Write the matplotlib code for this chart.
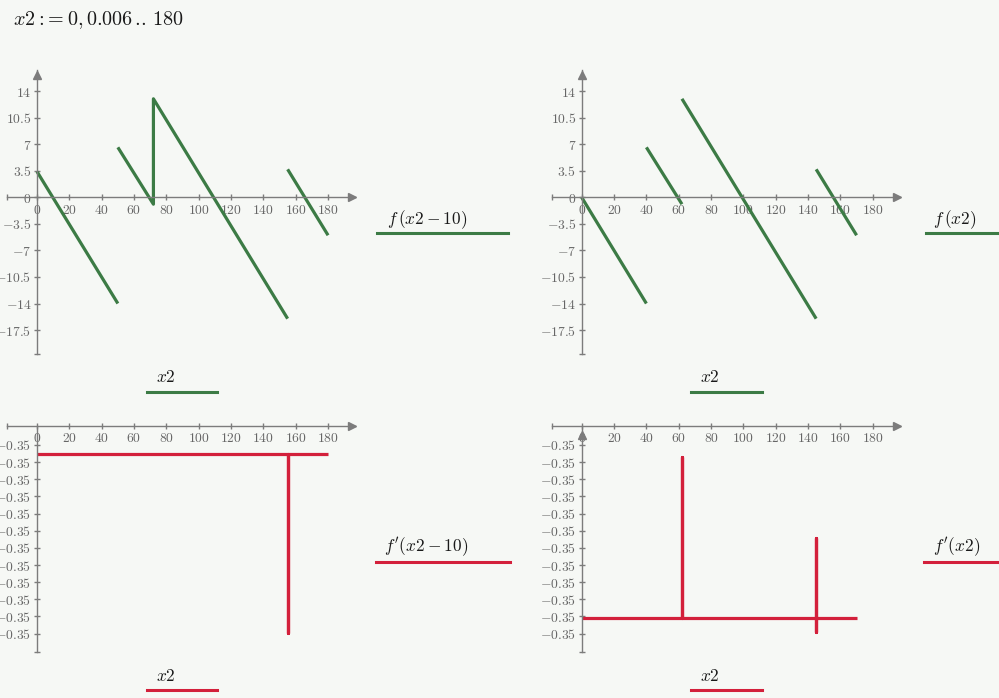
import numpy as np
import matplotlib
matplotlib.use("Agg")
import matplotlib.pyplot as plt
from matplotlib.lines import Line2D

plt.rcParams["mathtext.fontset"] = "cm"

W, H = 999, 698
BG = "#f6f8f5"
AXIS = "#7c7c7c"
TICKTXT = "#666666"
GREEN = "#3c7b45"
RED = "#d3203b"

# f(x2 - 10), top left (NaN breaks the trace)
fs_x = [0, 50, np.nan, 50, 72, 72, 155, np.nan, 155, 180]
fs_y = [3.4, -14.0, np.nan, 6.6, -0.9, 13.0, -16.0, np.nan, 3.7, -5.0]

# f(x2), top right
f_x = [0, 40, np.nan, 40, 62, np.nan, 62, 145, np.nan, 145, 170]
f_y = [0.0, -14.0, np.nan, 6.6, -0.9, np.nan, 13.0, -16.0, np.nan, 3.7, -5.0]

# f'(...) is -0.35 everywhere, spikes are tiny deviations (in units of 1e-9)
dfs_x = [0, 155, 155, 155, 180]
dfs_u = [0.0, 0.0, -10.4, 0.0, 0.0]
df_x = [0, 62, 62, 62, 145, 145, 145, 145, 170]
df_u = [0.0, 0.0, 9.42, 0.0, 0.0, 4.69, -0.79, 0.0, 0.0]

x_ticks = [0, 20, 40, 60, 80, 100, 120, 140, 160, 180]
f_ticks = [14, 10.5, 7, 3.5, 0, -3.5, -7, -10.5, -14, -17.5]
dfs_ticks_u = [0.54 - i for i in range(12)]
df_ticks_u = [10.1 - i for i in range(12)]

DF_LEVEL = -0.35
DF_SCALE = 1e-9
PX_PER_X = 1.617


def num_label(v, fmt="{:g}"):
    return "$" + fmt.format(v) + "$"


def add_axes(fig, left, top, right, bottom):
    ax = fig.add_axes([left / W, 1 - bottom / H, (right - left) / W, (bottom - top) / H])
    ax.patch.set_visible(False)
    for s in ("top", "right"):
        ax.spines[s].set_visible(False)
    for s in ("left", "bottom"):
        ax.spines[s].set_color(AXIS)
        ax.spines[s].set_linewidth(1.0)
    ax.tick_params(direction="inout", length=5, width=1.0, color=AXIS,
                   labelcolor=TICKTXT, labelsize=9.8, pad=1.5)
    return ax


def top_plot(fig, left, right, x0, x, y):
    ax = add_axes(fig, left, 70, right, 354.3)
    ax.set_xlim(-(x0 - left) / PX_PER_X, (right - x0) / PX_PER_X)
    ax.set_ylim(-20.7, 16.8)
    ax.spines["left"].set_position(("data", 0))
    ax.spines["bottom"].set_position(("data", 0))
    xl = ax.get_xlim()
    ax.set_xticks([xl[0]] + x_ticks, [""] + [num_label(v) for v in x_ticks])
    yl = ax.get_ylim()
    ax.set_yticks([yl[0]] + f_ticks, [""] + [num_label(v) for v in f_ticks])
    ax.plot(x, y, color=GREEN, lw=2.3, solid_capstyle="butt", clip_on=False)
    ax.plot([xl[1] - 2], [0], marker=">", ms=6, color=AXIS, clip_on=False)
    ax.plot([0], [yl[1] - 0.6], marker="^", ms=6, color=AXIS, clip_on=False)
    return ax


def bottom_plot(fig, left, right, x0, x, u, ticks_u, arrow):
    ax = add_axes(fig, left, 425.7, right, 652)
    ax.set_xlim(-(x0 - left) / PX_PER_X, (right - x0) / PX_PER_X)
    c = ticks_u[0]
    u_top = c + 1.125
    u_bot = c - 12.07
    ax.set_ylim(DF_LEVEL + u_bot * DF_SCALE, DF_LEVEL + u_top * DF_SCALE)
    ax.spines["left"].set_position(("data", 0))
    ax.spines["bottom"].set_position(("axes", 1.0))
    xl = ax.get_xlim()
    ax.set_xticks([xl[0]] + x_ticks, [""] + [num_label(v) for v in x_ticks])
    yt = [DF_LEVEL + t * DF_SCALE for t in ticks_u]
    yl = ax.get_ylim()
    ax.set_yticks([yl[0]] + yt, [""] + [num_label(v, "{:.2f}") for v in yt])
    ax.plot(x, [DF_LEVEL + v * DF_SCALE for v in u], color=RED, lw=2.3,
            solid_capstyle="butt", clip_on=False)
    ax.plot([xl[1] - 2], [yl[1]], marker=">", ms=6, color=AXIS, clip_on=False)
    if arrow:
        ax.plot([0], [DF_LEVEL + (c + 0.6) * DF_SCALE], marker="^", ms=6,
                color=AXIS, clip_on=False)
    return ax


def legend_key(fig, x0, x1, y, color):
    fig.add_artist(Line2D([x0 / W, x1 / W], [1 - y / H, 1 - y / H],
                          transform=fig.transFigure, color=color, lw=2.2))


def label(fig, x, y, s, size=12.5):
    fig.text(x / W, 1 - y / H, s, fontsize=size, color="#1a1a1a",
             ha="left", va="baseline")


fig = plt.figure(figsize=(W / 100, H / 100), dpi=100)
fig.patch.set_facecolor(BG)

top_plot(fig, 7, 355, 37, fs_x, fs_y)
top_plot(fig, 552.3, 900, 581.7, f_x, f_y)
bottom_plot(fig, 7, 355, 37, dfs_x, dfs_u, dfs_ticks_u, arrow=False)
bottom_plot(fig, 552.3, 900, 581.7, df_x, df_u, df_ticks_u, arrow=True)

label(fig, 13, 25,
      r"$x2:\!=\hspace{0.05}0,\hspace{-0.05}0.006\hspace{0.15}.\hspace{-0.2}.\hspace{0.15}180$",
      size=14.5)

label(fig, 387, 224, r"$f\,(x2-10)$")
legend_key(fig, 377, 508, 233, GREEN)
label(fig, 933, 224, r"$f\,(x2)$")
legend_key(fig, 926, 1000, 233, GREEN)
label(fig, 156, 382, r"$x2$")
legend_key(fig, 147, 217, 392, GREEN)
label(fig, 700, 382, r"$x2$")
legend_key(fig, 691, 762, 392, GREEN)

label(fig, 384, 552, r"$f'(x2-10)$")
legend_key(fig, 376, 510, 562, RED)
label(fig, 933, 552, r"$f'(x2)$")
legend_key(fig, 924, 1000, 562, RED)
label(fig, 156, 681, r"$x2$")
legend_key(fig, 147, 217, 690, RED)
label(fig, 700, 681, r"$x2$")
legend_key(fig, 691, 762, 690, RED)

fig.savefig("out.png", dpi=100, facecolor=BG)
